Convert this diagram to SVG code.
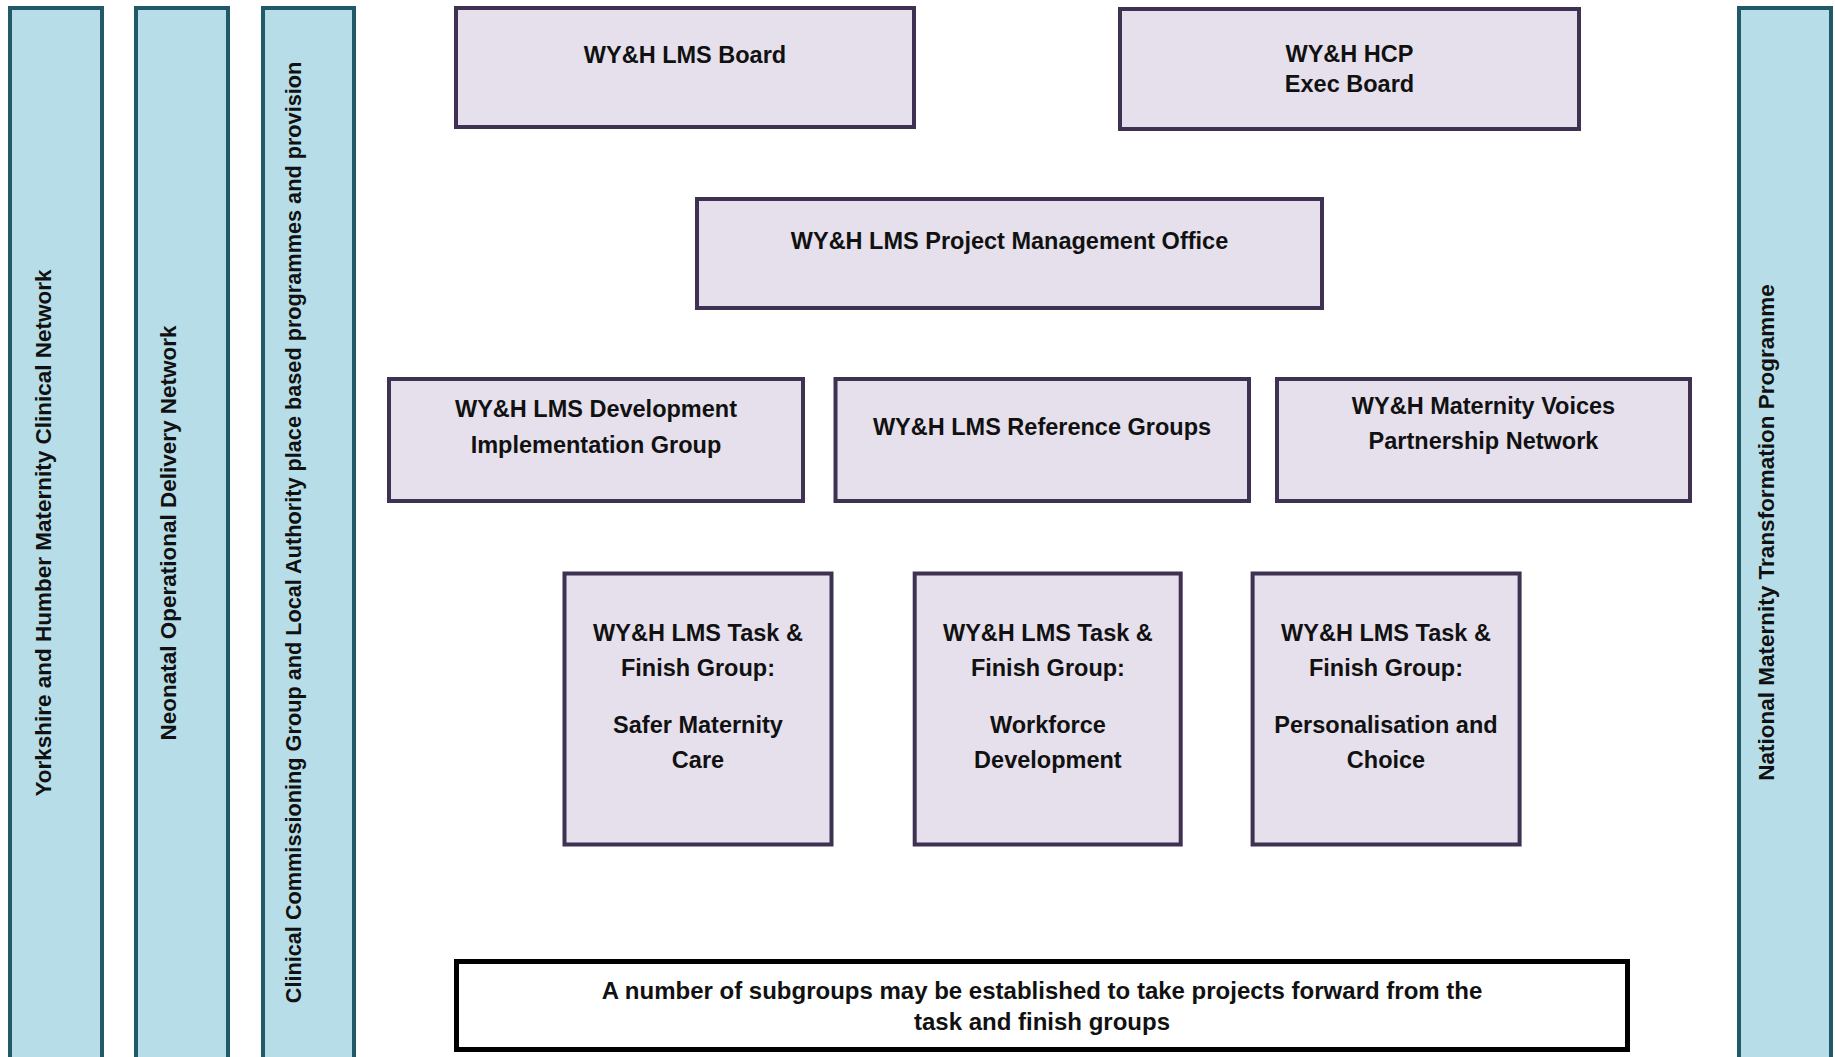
<svg xmlns="http://www.w3.org/2000/svg" width="1835" height="1057" viewBox="0 0 1835 1057">
<style>
.col{fill:#b7dee8;stroke:#215968;stroke-width:4}
.box{fill:#e5e0ec;stroke:#3f3151;stroke-width:4}
.note{fill:#ffffff;stroke:#000000;stroke-width:5}
text{font-family:"Liberation Sans",Arial,sans-serif;font-weight:bold;fill:#111111;text-anchor:middle}
.t{font-size:23.5px}
.v{font-size:22.5px}
.n{font-size:24px}
</style>
<rect width="1835" height="1057" fill="#ffffff"/>
<g id="col-yorkshire">
<rect class="col" x="10" y="8" width="92" height="1060"/>
<text class="v" transform="translate(51,533) rotate(-90)">Yorkshire and Humber Maternity Clinical Network</text>
</g>
<g id="col-neonatal">
<rect class="col" x="136" y="8" width="92" height="1060"/>
<text class="v" transform="translate(175.5,533) rotate(-90)">Neonatal Operational Delivery Network</text>
</g>
<g id="col-ccg">
<rect class="col" x="263" y="8" width="91" height="1060"/>
<text style="font-size:21.7px" transform="translate(300.5,532.5) rotate(-90)">Clinical Commissioning Group and Local Authority place based programmes and provision</text>
</g>
<g id="col-national">
<rect class="col" x="1739" y="8" width="92" height="1060"/>
<text class="v" transform="translate(1774,532.5) rotate(-90)">National Maternity Transformation Programme</text>
</g>
<g id="lms-board">
<rect class="box" x="456" y="8" width="458" height="119"/>
<text class="t" x="685" y="63">WY&amp;H LMS Board</text>
</g>
<g id="hcp-exec-board">
<rect class="box" x="1120" y="9" width="459" height="120"/>
<text class="t" x="1349.5" y="62">WY&amp;H HCP</text>
<text class="t" x="1349.5" y="92">Exec Board</text>
</g>
<g id="pmo">
<rect class="box" x="697" y="199" width="625" height="109"/>
<text class="t" x="1009.5" y="249">WY&amp;H LMS Project Management Office</text>
</g>
<g id="dev-impl">
<rect class="box" x="389" y="379" width="414" height="122"/>
<text class="t" x="596" y="417">WY&amp;H LMS Development</text>
<text class="t" x="596" y="453">Implementation Group</text>
</g>
<g id="reference-groups">
<rect class="box" x="835.5" y="379" width="413.5" height="122"/>
<text class="t" x="1042" y="434.5">WY&amp;H LMS Reference Groups</text>
</g>
<g id="mvp-network">
<rect class="box" x="1277" y="379" width="413" height="122"/>
<text class="t" x="1483.5" y="413.5">WY&amp;H Maternity Voices</text>
<text class="t" x="1483.5" y="448.5">Partnership Network</text>
</g>
<g id="tf-safer">
<rect class="box" x="564.5" y="573.5" width="267" height="271"/>
<text class="t" x="698" y="640.5">WY&amp;H LMS Task &amp;</text>
<text class="t" x="698" y="676">Finish Group:</text>
<text class="t" x="698" y="732.5">Safer Maternity</text>
<text class="t" x="698" y="768">Care</text>
</g>
<g id="tf-workforce">
<rect class="box" x="914.7" y="573.5" width="266" height="271"/>
<text class="t" x="1047.9" y="640.5">WY&amp;H LMS Task &amp;</text>
<text class="t" x="1047.9" y="676">Finish Group:</text>
<text class="t" x="1047.9" y="732.5">Workforce</text>
<text class="t" x="1047.9" y="768">Development</text>
</g>
<g id="tf-personalisation">
<rect class="box" x="1252.6" y="573.5" width="267" height="271"/>
<text class="t" x="1386" y="640.5">WY&amp;H LMS Task &amp;</text>
<text class="t" x="1386" y="676">Finish Group:</text>
<text class="t" x="1386" y="732.5">Personalisation and</text>
<text class="t" x="1386" y="768">Choice</text>
</g>
<g id="subgroups-note">
<rect class="note" x="456.5" y="961.5" width="1171" height="88"/>
<text class="n" x="1042" y="998.5">A number of subgroups may be established to take projects forward from the</text>
<text class="n" x="1042" y="1029.5">task and finish groups</text>
</g>
<g id="connectors"></g>
</svg>
